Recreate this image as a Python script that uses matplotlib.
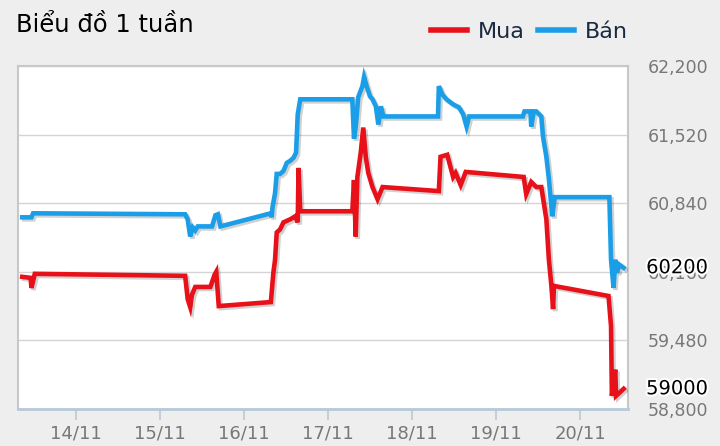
import matplotlib.pyplot as plt
import matplotlib.patheffects as pe
from matplotlib.lines import Line2D
from matplotlib.ticker import FuncFormatter

# Days are November dates (fractional = time of day)
ban_days = [13.36, 13.47, 13.49, 15.30, 15.33, 15.36, 15.39, 15.42, 15.45, 15.62, 15.66, 15.69,
            15.72, 16.32, 16.33, 16.34, 16.37, 16.39, 16.43, 16.47, 16.51, 16.55, 16.59, 16.62,
            16.64, 16.67, 17.29, 17.31, 17.33, 17.36, 17.41, 17.43, 17.46, 17.50, 17.53, 17.57,
            17.60, 17.63, 17.66, 18.31, 18.32, 18.36, 18.41, 18.49, 18.56, 18.61, 18.65, 18.68,
            19.32, 19.34, 19.41, 19.42, 19.45, 19.48, 19.54, 19.56, 19.60, 19.63, 19.67, 19.70,
            20.35, 20.37, 20.40, 20.42, 20.44, 20.47, 20.52]
ban_vals = [60700, 60700, 60740, 60730, 60680, 60510, 60600, 60570, 60610, 60610, 60720, 60730,
            60610, 60740, 60700, 60800, 60940, 61130, 61130, 61160, 61240, 61260, 61290, 61340,
            61720, 61870, 61870, 61480, 61590, 61890, 62000, 62090, 62000, 61900, 61870, 61800,
            61620, 61800, 61700, 61700, 62000, 61920, 61870, 61820, 61790, 61720, 61600, 61700,
            61700, 61750, 61750, 61600, 61750, 61750, 61700, 61500, 61300, 61080, 60710, 60900,
            60900, 60280, 60000, 60280, 60150, 60230, 60200]

mua_days = [13.36, 13.46, 13.47, 13.51, 15.30, 15.33, 15.36, 15.38, 15.42, 15.60, 15.65, 15.67,
            15.70, 16.32, 16.35, 16.37, 16.39, 16.43, 16.47, 16.55, 16.61, 16.64, 16.65, 16.67,
            17.29, 17.31, 17.33, 17.35, 17.39, 17.42, 17.45, 17.48, 17.53, 17.59, 17.63, 17.65,
            18.32, 18.34, 18.42, 18.49, 18.52, 18.58, 18.64, 19.33, 19.36, 19.42, 19.48, 19.54,
            19.60, 19.63, 19.66, 19.68, 19.69, 20.34, 20.37, 20.38, 20.42, 20.43, 20.52]
mua_vals = [60110, 60100, 60000, 60140, 60120, 59890, 59810, 59930, 60010, 60010, 60130, 60160,
            59820, 59860, 60150, 60280, 60550, 60580, 60650, 60680, 60710, 60650, 61190, 60760,
            60760, 61070, 60510, 61100, 61340, 61590, 61300, 61140, 61000, 60880, 60960, 61000,
            60960, 61300, 61320, 61100, 61140, 61020, 61150, 61100, 60930, 61050, 61000, 61000,
            60680, 60280, 60020, 59790, 60020, 59920, 59620, 58930, 59190, 58930, 59000]

y_ticks = [58800, 59480, 60160, 60840, 61520, 62200]
x_ticks = [14, 15, 16, 17, 18, 19, 20]
x_labels = ['14/11', '15/11', '16/11', '17/11', '18/11', '19/11', '20/11']

red = '#e8111a'
blue = '#1a9ee8'

fig = plt.figure(figsize=(7.2, 4.46), dpi=100, facecolor='#eeeeee')
ax = fig.add_axes([0.025, 0.083, 0.847, 0.769])
ax.set_facecolor('white')

shadow = [pe.SimpleLineShadow(offset=(1.5, -1.5), alpha=0.18), pe.Normal()]
ax.plot(ban_days, ban_vals, color=blue, lw=3.3, solid_joinstyle='miter', path_effects=shadow, zorder=3)
ax.plot(mua_days, mua_vals, color=red, lw=3.3, solid_joinstyle='miter', path_effects=shadow, zorder=4)

ax.set_ylim(58800, 62200)
ax.set_xlim(13.31, 20.57)
ax.set_yticks(y_ticks)
ax.yaxis.set_major_formatter(FuncFormatter(lambda v, p: f'{int(v):,}'))
ax.yaxis.tick_right()
ax.tick_params(axis='y', length=0, pad=14, labelsize=12.5, labelcolor='#777777')
ax.set_xticks(x_ticks)
ax.set_xticklabels(x_labels)
ax.tick_params(axis='x', length=8, width=1.2, color='#b8c8d8', pad=3, labelsize=13, labelcolor='#777777')
ax.grid(axis='y', color='#d4d4d4', lw=1)
ax.set_axisbelow(True)

for side in ['left', 'top', 'right']:
    ax.spines[side].set_color('#c8c8c8')
    ax.spines[side].set_linewidth(1.5)
ax.spines['bottom'].set_color('#b8c8d8')
ax.spines['bottom'].set_linewidth(2)

# current values at the right (they sit over the axis labels, as in the source)
halo = [pe.withStroke(linewidth=3, foreground='white')]
ax.text(1.03, ban_vals[-1], str(ban_vals[-1]), transform=ax.get_yaxis_transform(),
        ha='left', va='center', fontsize=14, color='black', path_effects=halo, zorder=5)
ax.text(1.03, mua_vals[-1], str(mua_vals[-1]), transform=ax.get_yaxis_transform(),
        ha='left', va='center', fontsize=14, color='black', path_effects=halo, zorder=5)

fig.text(0.022, 0.945, 'Biểu đồ 1 tuần', fontsize=17.5, color='black', va='center', ha='left')

handles = [Line2D([], [], color=red, lw=4), Line2D([], [], color=blue, lw=4)]
fig.legend(handles, ['Mua', 'Bán'], loc='center right', bbox_to_anchor=(0.9, 0.928), ncol=2,
           frameon=False, fontsize=16, handlelength=1.6, handletextpad=0.5, columnspacing=0.6,
           labelcolor='#1a2a40')

fig.savefig('out.png', dpi=100, facecolor=fig.get_facecolor())
